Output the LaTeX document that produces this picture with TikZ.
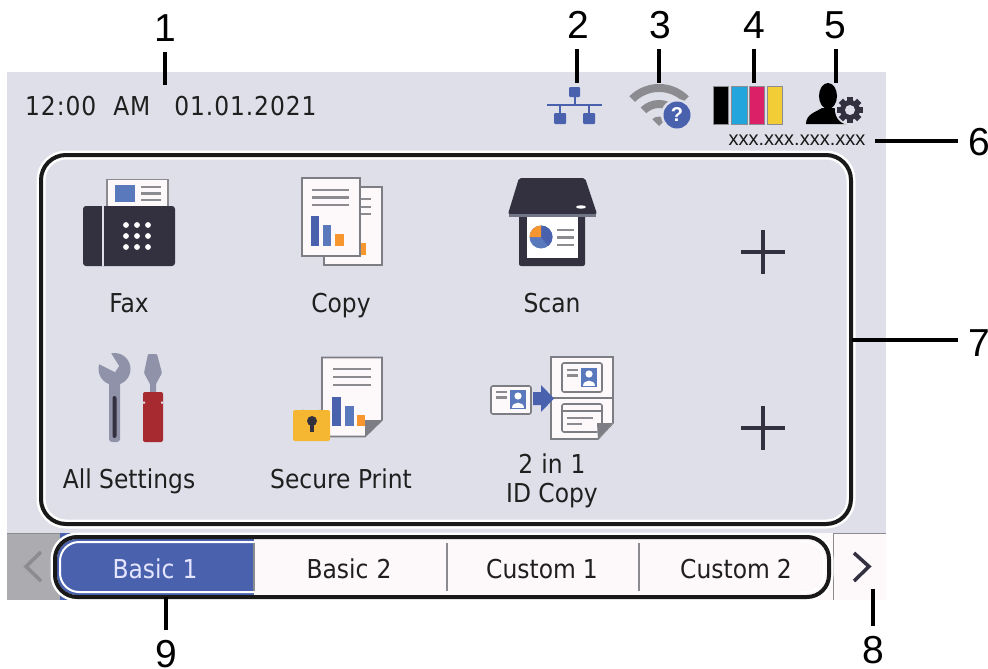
\documentclass[tikz,border=0pt]{standalone}
\usepackage{fontspec}
\setmainfont[FakeStretch=0.9]{DejaVu Sans}
\newfontfamily\numfont{Liberation Sans}
\definecolor{screenbg}{HTML}{DEDFE9}
\definecolor{tabwhite}{HTML}{FDF8FA}
\definecolor{darkicon}{HTML}{333140}
\definecolor{blueA}{HTML}{4A62AE}
\definecolor{blueB}{HTML}{5A78BC}
\definecolor{orangeA}{HTML}{F7962F}
\definecolor{grayline}{HTML}{8B8B90}
\definecolor{pagegray}{HTML}{7D7D84}
\definecolor{toolgray}{HTML}{8F92A8}
\definecolor{toolred}{HTML}{A62A2F}
\definecolor{lockyellow}{HTML}{F5B731}
\definecolor{leftgray}{HTML}{ABABB0}
\definecolor{inkC}{HTML}{22A5DC}
\definecolor{inkM}{HTML}{DC2068}
\definecolor{inkY}{HTML}{F3CD35}
\tikzset{
  num/.style={font=\numfont\fontsize{39}{39}\selectfont,inner sep=10pt,text=black},
  leader/.style={draw=black,line width=3.6pt},
  lbl/.style={font=\fontsize{26}{29}\selectfont,text=black!88,inner sep=0pt,align=center,anchor=base},
  tabl/.style={font=\fontsize{26}{29}\selectfont,inner sep=0pt,text=black!88,anchor=base},
  pagebox/.style={fill=tabwhite,draw=pagegray,line width=1.6pt},
  glines/.style={draw=grayline,line width=2.8pt},
  pluss/.style={draw=darkicon,line width=3.8pt},
  cardb/.style={fill=tabwhite,draw=pagegray,line width=1.6pt,rounded corners=2pt},
}
\begin{document}
\begin{tikzpicture}[x=1pt,y=-1pt]
\useasboundingbox (0,0) rectangle (988,669);
% screen
\fill[screenbg] (7,72) rectangle (886,533);
\fill[tabwhite] (7,533) rectangle (886,600);
\fill[leftgray] (7,533) rectangle (60,600);
\fill[blueA] (60,533) rectangle (254,600);
\draw[grayline,line width=1pt] (7,533) -- (60,533) (833,533) -- (886,533);
\draw[grayline,line width=1pt] (833,533) -- (833,600);
% main panel and tab pill
\draw[white,line width=9pt,rounded corners=25pt] (41,155) rectangle (851,524);
\draw[black!90,line width=4pt,rounded corners=25pt] (41,155) rectangle (851,524);
\draw[white,line width=9pt,rounded corners=22pt] (55,537) rectangle (829,597);
\begin{scope}
\clip[rounded corners=20pt] (57,539) rectangle (827,595);
\fill[blueA] (57,539) rectangle (254,595);
\fill[tabwhite] (254,539) rectangle (827,595);
\end{scope}
\draw[white,line width=2pt,rounded corners=19pt] (60,542) rectangle (824,592);
\fill[tabwhite] (254,541) rectangle (800,593);
\draw[black!90,line width=4pt,rounded corners=22pt] (55,537) rectangle (829,597);
\draw[grayline,line width=1.4pt] (254,543) -- (254,591) (447,543) -- (447,591) (639,543) -- (639,591);
% chevrons
\draw[grayline,line width=3.5pt] (41,552) -- (26,566.5) -- (41,581);
\draw[darkicon,line width=3.5pt] (854,553) -- (869,566.5) -- (854,581);
% status text
\node[font=\fontsize{26}{29}\selectfont\addfontfeature{LetterSpace=3.5},text=black!88,inner sep=0pt,anchor=base west] (clock) at (25,115) {12:00\hspace{17pt}AM\hspace{24pt}01.01.2021};
\node[font=\numfont\fontsize{20}{20}\selectfont,text=black!90,inner sep=0pt] (ip) at (797,140) {xxx.xxx.xxx.xxx};
% network icon
\fill[blueA,rounded corners=1pt] (569,87) rectangle (580,97);
\fill[blueA,rounded corners=1pt] (554,113) rectangle (566,124);
\fill[blueA,rounded corners=1pt] (583,113) rectangle (595,124);
\draw[blueA,line width=2pt] (547,105) -- (602,105) (574.5,97) -- (574.5,105) (560,105) -- (560,113) (589,105) -- (589,113);
% wifi icon
\begin{scope}
\clip (659,126) -- (621,88) -- (621,70) -- (697,70) -- (697,88) -- cycle;
\draw[grayline,line width=8pt] (659,126) circle (38);
\draw[grayline,line width=8pt] (659,126) circle (22);
\fill[grayline] (659,126) circle (9.5);
\end{scope}
\fill[screenbg] (677,115) circle (16);
\fill[blueA] (677,115) circle (13.5);
\node[font=\numfont\bfseries\fontsize{20}{20}\selectfont,text=white,inner sep=0pt] (qm) at (677,115) {?};
% ink bars
\draw[fill=black,draw=grayline,line width=.8pt] (713,86) rectangle (728,124);
\draw[fill=inkC,draw=grayline,line width=.8pt] (731,86) rectangle (747,124);
\draw[fill=inkM,draw=grayline,line width=.8pt] (749,86) rectangle (764,124);
\draw[fill=inkY,draw=grayline,line width=.8pt] (767,86) rectangle (782,124);
% admin icon
\fill[black] (828,96) ellipse (9 and 13);
\fill[black] (806,124) .. controls (806,114) and (816,112) .. (822,108) -- (834,108) .. controls (840,112) and (848,114) .. (850,124) -- cycle;
\fill[screenbg] (850,110) circle (15);
\foreach \a in {0,45,...,315}{\fill[darkicon,rotate around={\a:(850,110)}] (847,97) rectangle (853,103);}
\fill[darkicon] (850,110) circle (10);
\fill[screenbg] (850,110) circle (5);
% fax
\draw[pagebox,draw=grayline] (107,179.5) rectangle (168,208);
\fill[blueB] (115,185) rectangle (135,202);
\draw[glines] (141,187) -- (161,187) (141,193.5) -- (161,193.5) (141,200) -- (161,200);
\fill[darkicon,rounded corners=3pt] (83,206) rectangle (175,266);
\fill[screenbg] (101.5,206) rectangle (103.5,266);
\foreach \px in {126,137,148}\foreach \py in {225,236,247}{\fill[white] (\px,\py) circle (2.9);}
\node[lbl] (fax) at (129,312) {Fax};
% copy
\draw[pagebox] (324,187) rectangle (382,265);
\draw[glines] (360,199) -- (371,199) (360,207) -- (371,207) (360,214) -- (371,214);
\fill[orangeA] (360,243) rectangle (366,255);
\draw[pagebox,line width=2pt] (302,178) rectangle (360,256);
\draw[glines] (312,190) -- (349,190) (312,197.5) -- (349,197.5) (312,205) -- (349,205);
\fill[blueA] (311,216) rectangle (319,246);
\fill[blueB] (323,225) rectangle (331,246);
\fill[orangeA] (335,234) rectangle (344,246);
\node[lbl] (copy) at (341,312) {Copy};
% scan
\fill[darkicon,rounded corners=2pt] (519,215) rectangle (585,266);
\fill[white] (527,215) rectangle (578,258);
\fill[darkicon,rounded corners=2pt] (519,178) -- (585,178) -- (597,214) -- (508,214) -- cycle;
\draw[toolgray!80!black,line width=3pt,rounded corners=1pt] (509,215) -- (596,215);
\fill[white] (581,207) ellipse (5 and 1.7);
\fill[blueB] (541,237) circle (11.5);
\fill[blueA] (541,237) -- (541,225.5) arc[start angle=-90,end angle=52,radius=11.5] -- cycle;
\fill[orangeA] (541,237) -- (529.5,237) arc[start angle=180,end angle=270,radius=11.5] -- cycle;
\draw[glines] (557,230) -- (574,230) (557,237.5) -- (574,237.5) (557,245) -- (574,245);
\node[lbl] (scan) at (552,312) {Scan};
% plus signs
\draw[pluss] (741,252) -- (785,252) (763,230) -- (763,274);
\draw[pluss] (741,428) -- (785,428) (763,406) -- (763,450);
% wrench
\fill[toolgray] (114.5,369) circle (16);
\fill[screenbg] (95,362) -- (115,372) -- (119,366) -- (109,350) -- (98,350) -- cycle;
\fill[toolgray,rounded corners=3pt] (109,375) rectangle (120,442);
\fill[darkicon,rounded corners=2pt] (112.5,396) rectangle (116.5,438);
% screwdriver
\fill[toolgray,rounded corners=1pt] (148,354) -- (157,354) -- (162,373) -- (156,384) -- (156,393) -- (150,393) -- (150,384) -- (144,373) -- cycle;
\fill[toolred,rounded corners=2pt] (143,392) rectangle (163,442);
\fill[screenbg] (143,401.5) rectangle (145,403.5) (161,401.5) rectangle (163,403.5);
\node[lbl] (settings) at (129,488) {All Settings};
% secure print
\draw[pagebox,draw=pagegray] (322,357.5) -- (382,357.5) -- (382,420) -- (365,436.5) -- (322,436.5) -- cycle;
\fill[pagegray] (382,420) -- (365,437) -- (365,420) -- cycle;
\draw[glines] (333,369) -- (371,369) (333,377) -- (371,377) (333,385) -- (371,385);
\fill[blueA] (332,397) rectangle (341,426);
\fill[blueB] (345,406) rectangle (354,426);
\fill[orangeA] (357,415) rectangle (365,426);
\draw[toolgray,line width=4pt] (301.5,410) arc[start angle=180,end angle=0,radius=10];
\fill[lockyellow,rounded corners=2pt] (293,410) rectangle (330,441);
\fill[darkicon] (312,421) circle (5);
\fill[darkicon] (310,422) rectangle (314,432);
\node[lbl] (secure) at (341,488) {Secure Print};
% id copy
\draw[pagebox] (551,357) -- (613,357) -- (613,423) -- (598,439) -- (551,439) -- cycle;
\draw[pagegray,line width=1.6pt] (551,398) -- (613,398);
\draw[cardb] (562,363) rectangle (602,392);
\fill[blueB] (581,368) rectangle (597,387);
\fill[white] (589,374) circle (3.6);
\fill[white] (583,386) .. controls (583,379) and (595,379) .. (595,386) -- cycle;
\draw[glines] (567,370) -- (578,370) (567,375.5) -- (578,375.5);
\draw[cardb] (562,404) rectangle (602,432);
\draw[pagegray,line width=1.6pt] (562,411) -- (602,411);
\draw[glines] (567,418) -- (593,418) (567,424) -- (582,424);
\fill[tabwhite] (597,423) -- (613,423) -- (598,439) -- cycle;
\fill[pagegray] (613,423) -- (598,439.5) -- (597,423) -- cycle;
\draw[cardb] (491,386) rectangle (531,414);
\fill[blueB] (510,390) rectangle (526,409);
\fill[white] (518,396) circle (3.6);
\fill[white] (512,408) .. controls (512,401) and (524,401) .. (524,408) -- cycle;
\draw[glines] (496,392) -- (507,392) (496,397.5) -- (507,397.5);
\fill[blueA] (533,392) -- (541,392) -- (541,385) -- (554,398.5) -- (541,412) -- (541,405) -- (533,405) -- cycle;
\node[lbl] (idcopyA) at (552,473) {2\hspace{8pt}in\hspace{8pt}1};
\node[lbl] (idcopyB) at (552,502) {ID Copy};
% tab labels
\node[tabl,text=white!90!blue] (tabA) at (155,578) {Basic\hspace{8pt}1};
\node[tabl] (tabB) at (349,578) {Basic\hspace{8pt}2};
\node[tabl] (tabC) at (542,578) {Custom\hspace{7pt}1};
\node[tabl] (tabD) at (736,578) {Custom\hspace{7pt}2};
% callouts
\node[num] (n1) at (165,28) {1};
\node[num] (n2) at (578,25) {2};
\node[num] (n3) at (660,25) {3};
\node[num] (n4) at (754,25) {4};
\node[num] (n5) at (835,25) {5};
\node[num] (n6) at (979,142) {6};
\node[num] (n7) at (979,343) {7};
\node[num] (n8) at (873,650) {8};
\node[num] (n9) at (166,654) {9};
\coordinate (t1) at (165,85);
\coordinate (t2) at (577,83);
\coordinate (t3) at (659,83);
\coordinate (t4) at (754,83);
\coordinate (t5) at (836,83);
\coordinate (t6) at (875,141);
\coordinate (t7) at (852,340);
\coordinate (t8) at (873,589);
\coordinate (t9) at (166,597);
\draw[leader] (t1 |- n1.south) -- (t1);
\draw[leader] (t2 |- n2.south) -- (t2);
\draw[leader] (t3 |- n3.south) -- (t3);
\draw[leader] (t4 |- n4.south) -- (t4);
\draw[leader] (t5 |- n5.south) -- (t5);
\draw[leader] (n6.west |- t6) -- (t6);
\draw[leader] (n7.west |- t7) -- (t7);
\draw[leader] (t8 |- n8.north) -- (t8);
\draw[leader] (t9 |- n9.north) -- (t9);
\end{tikzpicture}
\end{document}
